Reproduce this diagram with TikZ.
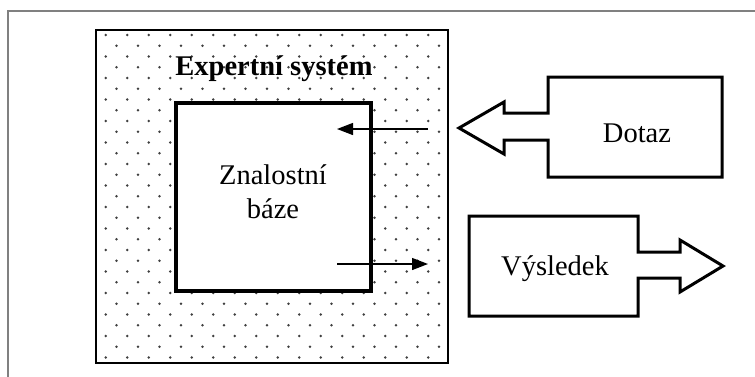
\documentclass[tikz,border=0pt]{standalone}
\usepackage{fontspec}
\setmainfont{Liberation Serif}
\usetikzlibrary{arrows.meta}
\tikzset{
  label text/.style={font=\fontsize{28.5}{34}\selectfont, inner sep=0pt, align=center},
  block/.style={draw=black, line width=3pt, line join=miter, fill=white},
  thin arrow/.style={line width=1.3pt, -{Triangle[length=16pt,width=12pt]}},
  dotcol/.style={fill=black!75}
}
\begin{document}
\begin{tikzpicture}[x=1pt,y=-1pt]
  \useasboundingbox (0,0) rectangle (755,376);
  \fill[white] (0,0) rectangle (755,376);

  % surrounding frame, open towards right and bottom
  \draw[gray, line width=2pt] (8,380) -- (8,11) -- (760,11);

  % expert system area with a staggered dot raster
  \draw[line width=1.5pt] (96,30) rectangle (448,363);
  \foreach \k in {0,...,30}{
    \pgfmathsetmacro{\yy}{35+10.75*\k}
    \pgfmathsetmacro{\xo}{mod(\k,2)==0 ? 105.7 : 116.5}
    \foreach \j in {0,...,15}{
      \fill[dotcol] (\xo+21.5*\j,\yy) circle (1.35pt);
    }
  }
  \node[label text, font=\fontsize{28.5}{34}\selectfont\bfseries, anchor=base] (title) at (274,75) {Expertní systém};

  % knowledge base
  \draw[line width=4pt, fill=white] (176,103) rectangle (371,291);
  \node[label text, anchor=base] (kb1) at (273,184) {Znalostní};
  \node[label text, anchor=base] (kb2) at (273,218) {báze};

  % inner arrows
  \coordinate (inA) at (428,129);
  \coordinate (inB) at (337,129);
  \coordinate (outA) at (337,264);
  \coordinate (outB) at (428,264);
  \draw[thin arrow] (inA) -- (inB);
  \draw[thin arrow] (outA) -- (outB);

  % query: block arrow pointing left
  \draw[block] (548,77) -- (722,77) -- (722,177) -- (548,177) -- (548,140)
     -- (504,140) -- (504,154) -- (459,128) -- (504,102) -- (504,113)
     -- (548,113) -- cycle;
  \node[label text, anchor=base] (query) at (637,142) {Dotaz};

  % result: block arrow pointing right
  \draw[block] (469,216) -- (638,216) -- (638,252) -- (680,252) -- (680,240)
     -- (723,266) -- (680,292) -- (680,278) -- (638,278) -- (638,316)
     -- (469,316) -- cycle;
  \node[label text, anchor=base] (result) at (555,275) {Výsledek};
\end{tikzpicture}
\end{document}
